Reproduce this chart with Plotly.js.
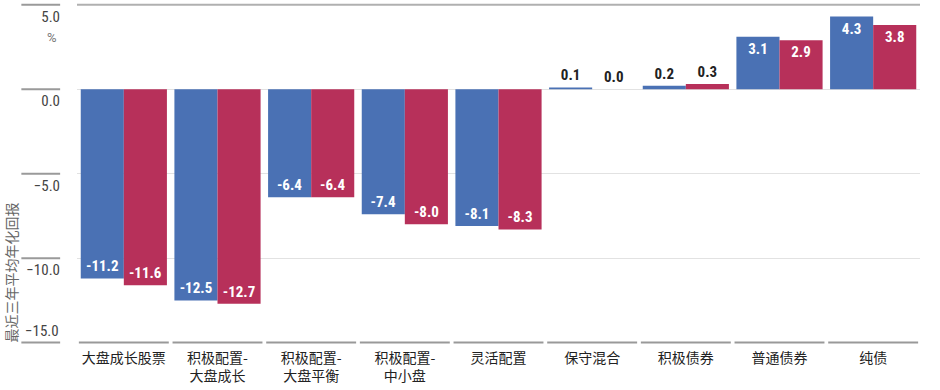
<!DOCTYPE html>
<html><head><meta charset="utf-8">
<script src="https://cdn.plot.ly/plotly-3.0.1.min.js"></script>
<style>body{margin:0;background:#fff}#c{width:940px;height:390px}</style>
</head><body><div id="c"></div>
<script>
const categories = ['大盘成长股票','积极配置-<br>大盘成长','积极配置-<br>大盘平衡','积极配置-<br>中小盘','灵活配置','保守混合','积极债券','普通债券','纯债'];
const seriesA = [-11.2, -12.5, -6.4, -7.4, -8.1, 0.1, 0.2, 3.1, 4.3];
const seriesB = [-11.6, -12.7, -6.4, -8.0, -8.3, 0.0, 0.3, 2.9, 3.8];
const yTicks = [5, 0, -5, -10];
const yTickText = ['5.0', '0.0', '−5.0', '−10.0'];
const yMin = -15, yMinText = '−15.0';
const yTitle = '最近三年平均年化回报';

const idx = categories.map((_, i) => i);
const numFont = 'Liberation Sans Narrow, Roboto Condensed, Roboto';
function mk(vals, color) {
  return {
    type: 'bar', x: idx, y: vals,
    marker: {color: color, line: {width: 0}},
    text: vals.map(v => v.toFixed(1)),
    textposition: vals.map(v => Math.abs(v) < 1 ? 'outside' : 'inside'),
    insidetextanchor: 'end',
    constraintext: 'none',
    cliponaxis: false,
    textfont: {family: numFont, size: 15, color: '#fff', weight: 'bold', stretch: 'condensed'},
    insidetextfont: {family: numFont, size: 15, color: '#fff', weight: 'bold', stretch: 'condensed'},
    outsidetextfont: {family: numFont, size: 15, color: '#222', weight: 'bold', stretch: 'condensed'},
    hoverinfo: 'none', showlegend: false
  };
}
const shapes = [];
yTicks.concat([yMin]).forEach(t => shapes.push({type: 'line', xref: 'paper', yref: 'y', x0: -0.066, x1: -0.02, y0: t, y1: t, line: {color: '#9a9a9a', width: 2}}));
shapes.push({type: 'line', xref: 'paper', yref: 'y', x0: 0, x1: 1, y0: 5, y1: 5, line: {color: '#b0b0b0', width: 2}});
idx.forEach(i => shapes.push({type: 'line', xref: 'x', yref: 'y', x0: i - 0.48, x1: i + 0.48, y0: yMin, y1: yMin, line: {color: '#999', width: 2}}));

const layout = {
  width: 940, height: 390,
  margin: {l: 77, r: 20, t: 3, b: 44},
  paper_bgcolor: '#fff', plot_bgcolor: '#fff',
  font: {family: 'Roboto, Noto Sans CJK SC, sans-serif', color: '#444'},
  barmode: 'group', bargap: 0.08, bargroupgap: 0,
  xaxis: {
    range: [-0.5, categories.length - 0.5],
    tickvals: idx, ticktext: categories,
    tickfont: {family: 'Noto Sans CJK SC', size: 14, color: '#222'},
    showgrid: false, zeroline: false, showline: false, ticks: '',
    ticklabelstandoff: 2
  },
  yaxis: {
    range: [-15.2, 5.1],
    tickvals: yTicks, ticktext: yTickText,
    tickfont: {family: numFont, size: 15, color: '#444', stretch: 'condensed'},
    gridcolor: '#e2e2e2', gridwidth: 1,
    zeroline: true, zerolinecolor: '#e2e2e2', zerolinewidth: 1,
    showline: false, ticks: '',
    ticklabelshift: 12, ticklabelstandoff: 16
  },
  shapes: shapes,
  annotations: [
    {text: yMinText, xref: 'paper', yref: 'y', x: -0.019, y: yMin, yshift: 1, xanchor: 'right', yanchor: 'bottom', showarrow: false,
     font: {family: numFont, size: 15, color: '#444', stretch: 'condensed'}},
    {text: '%', xref: 'paper', yref: 'paper', x: -0.021, y: 0.898, xanchor: 'right', yanchor: 'middle', showarrow: false,
     font: {family: 'Roboto', size: 13, color: '#777'}},
    {text: yTitle, textangle: -90, xref: 'paper', yref: 'paper', x: -0.078, y: 0.215, xanchor: 'center', yanchor: 'middle', showarrow: false,
     font: {family: 'Noto Sans CJK SC', size: 14, color: '#666'}}
  ]
};
Plotly.newPlot('c', [mk(seriesA, '#4a71b4'), mk(seriesB, '#b7305a')], layout, {displayModeBar: false, staticPlot: true});
</script></body></html>
